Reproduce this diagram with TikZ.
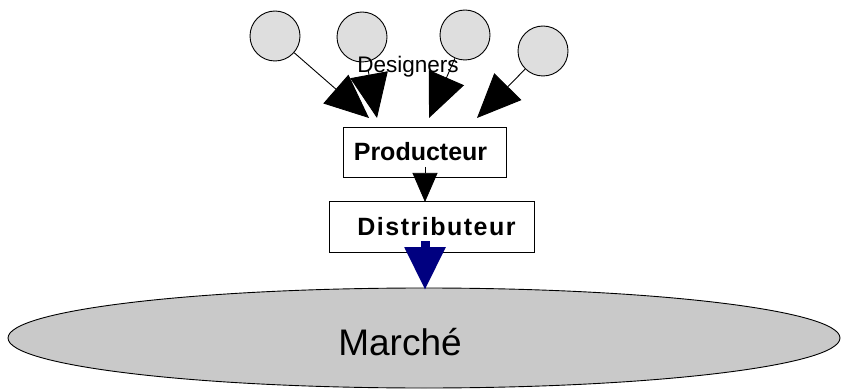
\documentclass[tikz,border=0pt]{standalone}
\usepackage{fontspec}
\setmainfont{Liberation Sans}
\usetikzlibrary{arrows.meta,shapes.geometric}
\definecolor{circfill}{HTML}{DEDEDE}
\definecolor{mktfill}{HTML}{C9C9C9}
\definecolor{navyblue}{HTML}{000080}
\tikzset{
  designer/.style={circle,draw=black,line width=0.9pt,fill=circfill,minimum size=50pt,inner sep=0pt},
  boxnode/.style={draw=black,line width=0.9pt,fill=white,inner sep=0pt,font=\fontsize{25}{27}\selectfont\bfseries},
  bigarrow/.style={line width=0.9pt,-{Triangle[length=44pt,width=38pt]}},
  midarrow/.style={line width=0.7pt,-{Triangle[length=29pt,width=25pt]}},
  bluearrow/.style={navyblue,line width=9pt,-{Triangle[length=43pt,width=39pt]}}
}
\begin{document}
\begin{tikzpicture}[x=1pt,y=-1pt]
\useasboundingbox (0,0) rectangle (843,390);
% market
\node[ellipse,draw=black,line width=0.9pt,fill=mktfill,minimum width=832pt,minimum height=100pt,inner sep=0pt] (market) at (424,338) {};
\node[font=\fontsize{37}{40}\selectfont,inner sep=0pt] (marche) at (400,342) {Marché};
% designers
\node[designer] (c1) at (275,36) {};
\node[designer] (c2) at (362,37) {};
\node[designer] (c3) at (465,35) {};
\node[designer] (c4) at (543,51) {};
\node[font=\fontsize{22.5}{24}\selectfont,inner sep=0pt] (designers) at (408,67) {Designers};
% boxes
\node[boxnode,minimum width=163pt,minimum height=50pt] (prod) at (424.5,152) {Producteur\kern8pt};
\node[boxnode,minimum width=205pt,minimum height=51pt] (dist) at (431.5,226.5) {\kern10pt\addfontfeature{LetterSpace=6}Distributeur};
% tip coordinates
\coordinate (t1) at (369,118);
\coordinate (t2) at (377,118);
\coordinate (t3) at (429,118);
\coordinate (t4) at (477,118);
\coordinate (ps) at (425,167);
\coordinate (pt) at (425,202);
\coordinate (bs) at (425,241);
\coordinate (bt) at (425,290);
% arrows
\draw[bigarrow] (c1) -- (t1);
\draw[bigarrow,shorten <=9pt] (c2) -- (t2);
\draw[bigarrow] (c3) -- (t3);
\draw[bigarrow] (c4) -- (t4);
\draw[midarrow] (ps) -- (pt);
\draw[bluearrow] (bs) -- (bt);
\end{tikzpicture}
\end{document}
